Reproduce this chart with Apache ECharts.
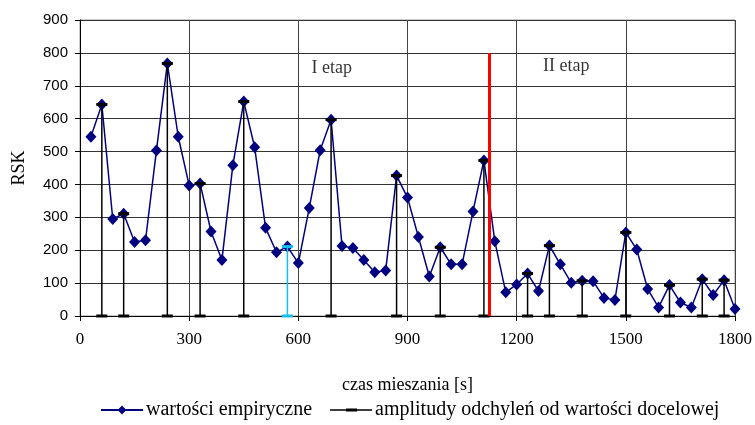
<!DOCTYPE html>
<html lang="pl">
<head>
    <meta charset="UTF-8">
    <script src="https://cdn.jsdelivr.net/npm/echarts@6/dist/echarts.min.js"></script>
    <style>
        html, body { margin: 0; padding: 0; background: #fff; }
        #main { width: 755px; height: 425px; }
    </style>
</head>
<body>
    <div id="main"></div>
<script>
    // czas mieszania [s]
    var times = [30, 60, 90, 120, 150, 180, 210, 240, 270, 300,
                 330, 360, 390, 420, 450, 480, 510, 540, 570, 600,
                 630, 660, 690, 720, 750, 780, 810, 840, 870, 900,
                 930, 960, 990, 1020, 1050, 1080, 1110, 1140, 1170, 1200,
                 1230, 1260, 1290, 1320, 1350, 1380, 1410, 1440, 1470, 1500,
                 1530, 1560, 1590, 1620, 1650, 1680, 1710, 1740, 1770, 1800];
    // RSK - wartosci empiryczne
    var rsk = [545, 643, 295, 311, 225, 230, 503, 768, 545, 397,
               403, 257, 170, 458, 652, 513, 268, 194, 211, 161,
               328, 504, 597, 213, 207, 170, 133, 138, 427, 360,
               240, 120, 209, 157, 157, 318, 473, 227, 72, 96,
               129, 76, 214, 157, 101, 107, 106, 55, 49, 254,
               202, 82, 26, 94, 41, 26, 112, 64, 109, 21];
    // amplitudy odchylen (czasy z pionowymi liniami)
    var stemTimes = [60, 120, 240, 330, 450, 690, 870, 990, 1110,
                     1230, 1290, 1380, 1500, 1620, 1710, 1770];
    var cyanTimes = [570];
    var stageSplit = 1125;
    var stageTop = 800;
    var stages = [
        { name: 'I etap', t: 692, y: 752 },
        { name: 'II etap', t: 1336, y: 758 }
    ];
    var xTicks = [0, 1800, 300];
    var yTicks = [0, 900, 100];

    var serif = '"Liberation Serif", "Times New Roman", serif';
    // ikona legendy: linia z krotka kreska posrodku (42x11)
    var stemIcon = 'path://M0,0 L0.01,0 Z M0,11 L0.01,11 Z ' +
                   'M0,4.8 L42,4.8 L42,6.2 L0,6.2 Z M16,4 L27,4 L27,7 L16,7 Z';

    function valueAt(t) {
        return rsk[times.indexOf(t)];
    }
    function stemData(list) {
        var out = [];
        list.forEach(function (t) {
            out.push([t, 0], [t, valueAt(t)], [t, '-']);
        });
        return out;
    }

    var myChart = echarts.init(document.getElementById('main'));
    var option = {
        animation: false,
        grid: {
            left: 80, right: 19, top: 20, bottom: 109,
            show: true, borderColor: '#999', borderWidth: 1
        },
        legend: {
            bottom: 0,
            left: 95,
            itemWidth: 42,
            itemHeight: 11,
            itemGap: 18,
            textStyle: { fontFamily: serif, fontSize: 20, color: '#000', padding: [0, 0, 0, -2] },
            data: [
                { name: 'wartości empiryczne' },
                { name: 'amplitudy odchyleń od wartości docelowej', icon: stemIcon }
            ]
        },
        xAxis: {
            type: 'value',
            min: xTicks[0], max: xTicks[1], interval: xTicks[2],
            name: 'czas mieszania [s]',
            nameLocation: 'middle',
            nameGap: 60,
            nameTextStyle: { fontFamily: serif, fontSize: 18, color: '#000' },
            axisLine: { show: true, lineStyle: { color: '#000', width: 1 } },
            axisTick: { show: true, length: 5, lineStyle: { color: '#000' } },
            axisLabel: {
                fontFamily: serif, fontSize: 17, color: '#000', margin: 15,
                formatter: function (v) { return String(v); }
            },
            splitLine: { show: true, lineStyle: { color: '#444', width: 1 } }
        },
        yAxis: {
            type: 'value',
            min: yTicks[0], max: yTicks[1], interval: yTicks[2],
            name: 'RSK',
            nameLocation: 'middle',
            nameGap: 52,
            nameTextStyle: { fontFamily: serif, fontSize: 18, color: '#000' },
            axisLine: { show: true, lineStyle: { color: '#000', width: 1 } },
            axisTick: { show: true, length: 5, lineStyle: { color: '#000' } },
            axisLabel: { fontFamily: '"Liberation Sans", Arial, sans-serif', fontSize: 15, color: '#000', margin: 12 },
            splitLine: { show: true, lineStyle: { color: '#333', width: 1 } }
        },
        series: [
            {
                name: 'wartości empiryczne',
                type: 'line',
                data: times.map(function (t, i) { return [t, rsk[i]]; }),
                symbol: 'diamond',
                symbolSize: [11, 12],
                itemStyle: { color: '#000080' },
                lineStyle: { color: '#000080', width: 1.5 },
                z: 2,
                markLine: {
                    silent: true,
                    symbol: ['none', 'none'],
                    label: { show: false },
                    lineStyle: { color: '#ff0000', width: 3, type: 'solid' },
                    data: [[{ coord: [stageSplit, 0] }, { coord: [stageSplit, stageTop] }]]
                }
            },
            {
                name: 'amplitudy odchyleń od wartości docelowej',
                type: 'line',
                data: stemData(stemTimes),
                connectNulls: false,
                symbol: 'rect',
                symbolSize: [11, 3],
                itemStyle: { color: '#000' },
                lineStyle: { color: '#000', width: 1.5 },
                z: 3
            },
            {
                name: 'cyan',
                type: 'line',
                data: stemData(cyanTimes),
                connectNulls: false,
                symbol: 'rect',
                symbolSize: [11, 3],
                itemStyle: { color: '#12bfee' },
                lineStyle: { color: '#12bfee', width: 1.5 },
                z: 3
            },
            {
                name: 'etapy',
                type: 'scatter',
                symbolSize: 0,
                data: stages.map(function (s) { return { name: s.name, value: [s.t, s.y] }; }),
                label: {
                    show: true, position: 'inside', formatter: '{b}',
                    fontFamily: serif, fontSize: 18, color: '#000'
                },
                z: 4
            }
        ]
    };
    myChart.setOption(option);
</script>
</body>
</html>
